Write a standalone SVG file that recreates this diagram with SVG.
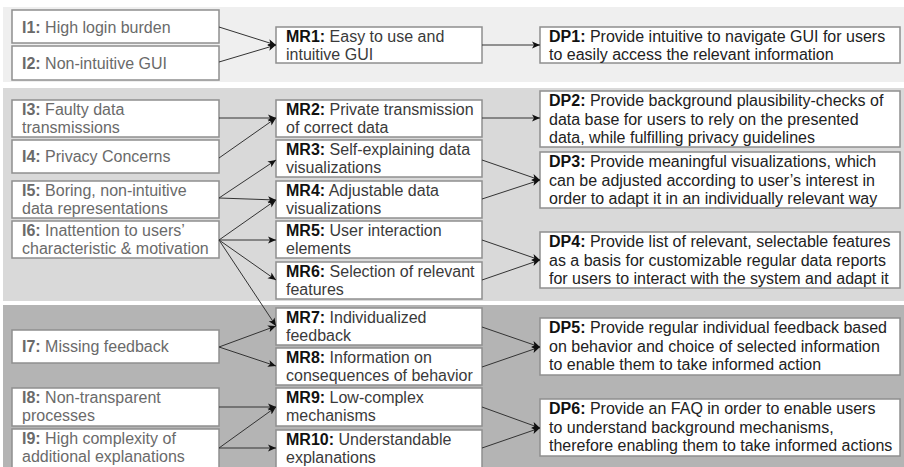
<svg xmlns="http://www.w3.org/2000/svg" width="904" height="467" viewBox="0 0 904 467">
<style>
.box{fill:#fff;stroke:#8f8f8f;stroke-width:1.5}
text{font-family:"Liberation Sans",Arial,sans-serif;font-size:16px}
.ti{fill:#6a6a6a}
.tm{fill:#3a3a3a}
.td{fill:#222}
.b{font-weight:bold}
.tm .b,.td .b{fill:#111}
.con line{stroke:#333;stroke-width:1;marker-end:url(#ah)}
</style>
<defs>
<marker id="ah" markerUnits="userSpaceOnUse" markerWidth="9" markerHeight="8" refX="8" refY="4" orient="auto">
<path d="M0,0.5 L8,4 L0,7.5 L2,4 z" fill="#111"/>
</marker>
</defs>
<rect width="904" height="467" fill="#fff"/>
<rect x="3" y="7" width="901" height="75" fill="#efefef"/>
<rect x="3" y="88" width="901" height="213" fill="#d9d9d9"/>
<rect x="3" y="305" width="901" height="162" fill="#b4b4b4"/>

<g id="I1"><rect class="box" x="12" y="10" width="207" height="33"/><text class="ti" x="22" y="33"><tspan class="b">I1:</tspan> High login burden</text></g>
<g id="I2"><rect class="box" x="12" y="46" width="207" height="34"/><text class="ti" x="22" y="69"><tspan class="b">I2:</tspan> Non-intuitive GUI</text></g>
<g id="I3"><rect class="box" x="12" y="100" width="207" height="37"/><text class="ti" x="22" y="114.5"><tspan class="b">I3:</tspan> Faulty data<tspan x="22" dy="18.5">transmissions</tspan></text></g>
<g id="I4"><rect class="box" x="12" y="140" width="207" height="33"/><text class="ti" x="22" y="162"><tspan class="b">I4:</tspan> Privacy Concerns</text></g>
<g id="I5"><rect class="box" x="12" y="181" width="207" height="37"/><text class="ti" x="22" y="195.5"><tspan class="b">I5:</tspan> Boring, non-intuitive<tspan x="22" dy="18.5">data representations</tspan></text></g>
<g id="I6"><rect class="box" x="12" y="221" width="207" height="37"/><text class="ti" x="22" y="235.5"><tspan class="b">I6:</tspan> Inattention to users’<tspan x="22" dy="18.5">characteristic &amp; motivation</tspan></text></g>
<g id="I7"><rect class="box" x="12" y="330" width="207" height="33"/><text class="ti" x="22" y="352"><tspan class="b">I7:</tspan> Missing feedback</text></g>
<g id="I8"><rect class="box" x="12" y="388" width="207" height="38"/><text class="ti" x="22" y="402.5"><tspan class="b">I8:</tspan> Non-transparent<tspan x="22" dy="18.5">processes</tspan></text></g>
<g id="I9"><rect class="box" x="12" y="429" width="207" height="40"/><text class="ti" x="22" y="443.5"><tspan class="b">I9:</tspan> High complexity of<tspan x="22" dy="18.5">additional explanations</tspan></text></g>

<g id="MR1"><rect class="box" x="276" y="27" width="206" height="36"/><text class="tm" x="286" y="41.5"><tspan class="b">MR1:</tspan> Easy to use and<tspan x="286" dy="18.5">intuitive GUI</tspan></text></g>
<g id="MR2"><rect class="box" x="276" y="100" width="206" height="37"/><text class="tm" x="286" y="114.5"><tspan class="b">MR2:</tspan> Private transmission<tspan x="286" dy="18.5">of correct data</tspan></text></g>
<g id="MR3"><rect class="box" x="276" y="140" width="206" height="37"/><text class="tm" x="286" y="154.5"><tspan class="b">MR3:</tspan> Self-explaining data<tspan x="286" dy="18.5">visualizations</tspan></text></g>
<g id="MR4"><rect class="box" x="276" y="181" width="206" height="37"/><text class="tm" x="286" y="195.5"><tspan class="b">MR4:</tspan> Adjustable data<tspan x="286" dy="18.5">visualizations</tspan></text></g>
<g id="MR5"><rect class="box" x="276" y="221" width="206" height="37"/><text class="tm" x="286" y="235.5"><tspan class="b">MR5:</tspan> User interaction<tspan x="286" dy="18.5">elements</tspan></text></g>
<g id="MR6"><rect class="box" x="276" y="262" width="206" height="37"/><text class="tm" x="286" y="276.5"><tspan class="b">MR6:</tspan> Selection of relevant<tspan x="286" dy="18.5">features</tspan></text></g>
<g id="MR7"><rect class="box" x="276" y="308" width="206" height="37"/><text class="tm" x="286" y="322.5"><tspan class="b">MR7:</tspan> Individualized<tspan x="286" dy="18.5">feedback</tspan></text></g>
<g id="MR8"><rect class="box" x="276" y="348" width="206" height="37"/><text class="tm" x="286" y="362.5"><tspan class="b">MR8:</tspan> Information on<tspan x="286" dy="18.5">consequences of behavior</tspan></text></g>
<g id="MR9"><rect class="box" x="276" y="388" width="206" height="38"/><text class="tm" x="286" y="402.5"><tspan class="b">MR9:</tspan> Low-complex<tspan x="286" dy="18.5">mechanisms</tspan></text></g>
<g id="MR10"><rect class="box" x="276" y="430" width="206" height="40"/><text class="tm" x="286" y="444.5"><tspan class="b">MR10:</tspan> Understandable<tspan x="286" dy="18.5">explanations</tspan></text></g>

<g id="DP1"><rect class="box" x="540" y="27" width="360" height="36"/><text class="td" x="549" y="41.5"><tspan class="b">DP1:</tspan> Provide intuitive to navigate GUI for users<tspan x="549" dy="18.5">to easily access the relevant information</tspan></text></g>
<g id="DP2"><rect class="box" x="540" y="91" width="360" height="56"/><text class="td" x="549" y="106"><tspan class="b">DP2:</tspan> Provide background plausibility-checks of<tspan x="549" dy="18.5">data base for users to rely on the presented</tspan><tspan x="549" dy="18.5">data, while fulfilling privacy guidelines</tspan></text></g>
<g id="DP3"><rect class="box" x="540" y="152" width="360" height="56"/><text class="td" x="549" y="167"><tspan class="b">DP3:</tspan> Provide meaningful visualizations, which<tspan x="549" dy="18.5">can be adjusted according to user’s interest in</tspan><tspan x="549" dy="18.5">order to adapt it in an individually relevant way</tspan></text></g>
<g id="DP4"><rect class="box" x="540" y="232" width="360" height="56"/><text class="td" x="549" y="247"><tspan class="b">DP4:</tspan> Provide list of relevant, selectable features<tspan x="549" dy="18.5">as a basis for customizable regular data reports</tspan><tspan x="549" dy="18.5">for users to interact with the system and adapt it</tspan></text></g>
<g id="DP5"><rect class="box" x="540" y="318" width="360" height="57"/><text class="td" x="549" y="333"><tspan class="b">DP5:</tspan> Provide regular individual feedback based<tspan x="549" dy="18.5">on behavior and choice of selected information</tspan><tspan x="549" dy="18.5">to enable them to take informed action</tspan></text></g>
<g id="DP6"><rect class="box" x="540" y="399" width="360" height="57"/><text class="td" x="549" y="414"><tspan class="b">DP6:</tspan> Provide an FAQ in order to enable users<tspan x="549" dy="18.5">to understand background mechanisms,</tspan><tspan x="549" dy="18.5">therefore enabling them to take informed actions</tspan></text></g>

<g id="connectors" class="con">
<line x1="219" y1="27" x2="276" y2="45"/>
<line x1="219" y1="62" x2="276" y2="45"/>
<line x1="482" y1="45" x2="540" y2="45"/>
<line x1="219" y1="118" x2="276" y2="118"/>
<line x1="219" y1="158" x2="276" y2="118"/>
<line x1="219" y1="198" x2="276" y2="160"/>
<line x1="219" y1="198" x2="276" y2="200"/>
<line x1="219" y1="240" x2="276" y2="200"/>
<line x1="219" y1="240" x2="276" y2="240"/>
<line x1="219" y1="240" x2="276" y2="280"/>
<line x1="219" y1="240" x2="276" y2="326"/>
<line x1="219" y1="347" x2="276" y2="326"/>
<line x1="219" y1="347" x2="276" y2="366"/>
<line x1="219" y1="407" x2="276" y2="407"/>
<line x1="219" y1="448" x2="276" y2="407"/>
<line x1="219" y1="448" x2="276" y2="448"/>
<line x1="482" y1="118" x2="540" y2="118"/>
<line x1="482" y1="160" x2="540" y2="180"/>
<line x1="482" y1="199" x2="540" y2="180"/>
<line x1="482" y1="240" x2="540" y2="260"/>
<line x1="482" y1="280" x2="540" y2="260"/>
<line x1="482" y1="327" x2="540" y2="347"/>
<line x1="482" y1="367" x2="540" y2="347"/>
<line x1="482" y1="407" x2="540" y2="428"/>
<line x1="482" y1="448" x2="540" y2="428"/>
</g>
</svg>
